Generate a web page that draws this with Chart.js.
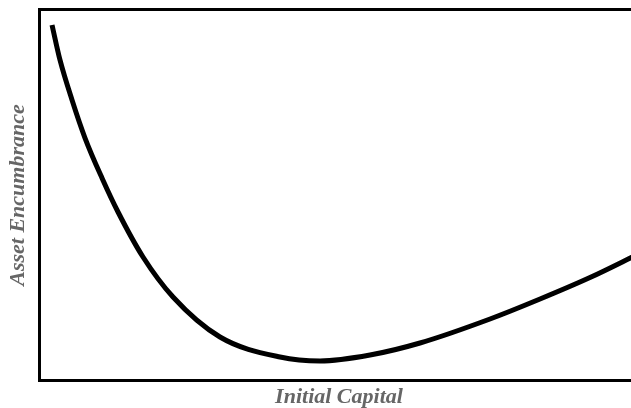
<!DOCTYPE html>
<html>
<head>
<meta charset="utf-8">
<script src="https://cdn.jsdelivr.net/npm/chart.js@4/dist/chart.umd.min.js"></script>
<style>
  html, body { margin: 0; padding: 0; background: #fff; overflow: hidden; }
  canvas { display: block; }
</style>
</head>
<body>
<canvas id="curveChart" width="645" height="408"></canvas>
<script>
// values (both axes unitless, 0..100)
const capital = [2.09, 3.42, 5.43, 7.60, 10.43, 13.11, 17.28, 22.29, 30.13, 40.15, 46.83, 55.18, 63.52, 75.21, 83.56, 91.90, 100];
const encumbrance = [95.82, 86.39, 75.61, 65.36, 54.58, 45.42, 33.29, 22.51, 11.73, 6.33, 5.26, 6.87, 10.11, 16.58, 21.97, 27.76, 34.10];
const xTitle = 'Initial Capital';
const yTitle = 'Asset Encumbrance';

const points = capital.map((c, i) => ({ x: c, y: encumbrance[i] }));

// frame around the plot area
const boxPlugin = {
    id: 'box',
    afterDraw(chart) {
        const { ctx, chartArea } = chart;
        ctx.save();
        ctx.strokeStyle = '#000';
        ctx.lineWidth = 3;
        ctx.strokeRect(chartArea.left, chartArea.top, chartArea.right - chartArea.left, chartArea.bottom - chartArea.top);
        ctx.restore();
    }
};

const titleFont = { family: '"Liberation Serif", "Times New Roman", serif', size: 22, weight: 'bold', style: 'italic', lineHeight: 1 };

new Chart(document.getElementById('curveChart').getContext('2d'), {
    type: 'scatter',
    data: {
        datasets: [{
            data: points,
            showLine: true,
            borderColor: '#000',
            borderWidth: 5,
            pointRadius: 0,
            cubicInterpolationMode: 'monotone'
        }]
    },
    options: {
        responsive: false,
        animation: false,
        devicePixelRatio: 1,
        layout: { padding: { top: 9.5, right: 6.5, left: 0, bottom: 0 } },
        plugins: { legend: { display: false }, tooltip: { enabled: false } },
        scales: {
            x: {
                type: 'linear', min: 0, max: 100,
                grid: { display: false, drawTicks: false },
                border: { display: false },
                ticks: { display: false },
                title: { display: true, text: xTitle, color: '#666', font: titleFont, padding: 0 },
                afterFit(s) { s.height = 27.5; }
            },
            y: {
                type: 'linear', min: 0, max: 100,
                grid: { display: false, drawTicks: false },
                border: { display: false },
                ticks: { display: false },
                title: { display: true, text: yTitle, color: '#666', font: titleFont, padding: { top: 7, bottom: 0 } },
                afterFit(s) { s.width = 39.5; }
            }
        }
    },
    plugins: [boxPlugin]
});
</script>
</body>
</html>
